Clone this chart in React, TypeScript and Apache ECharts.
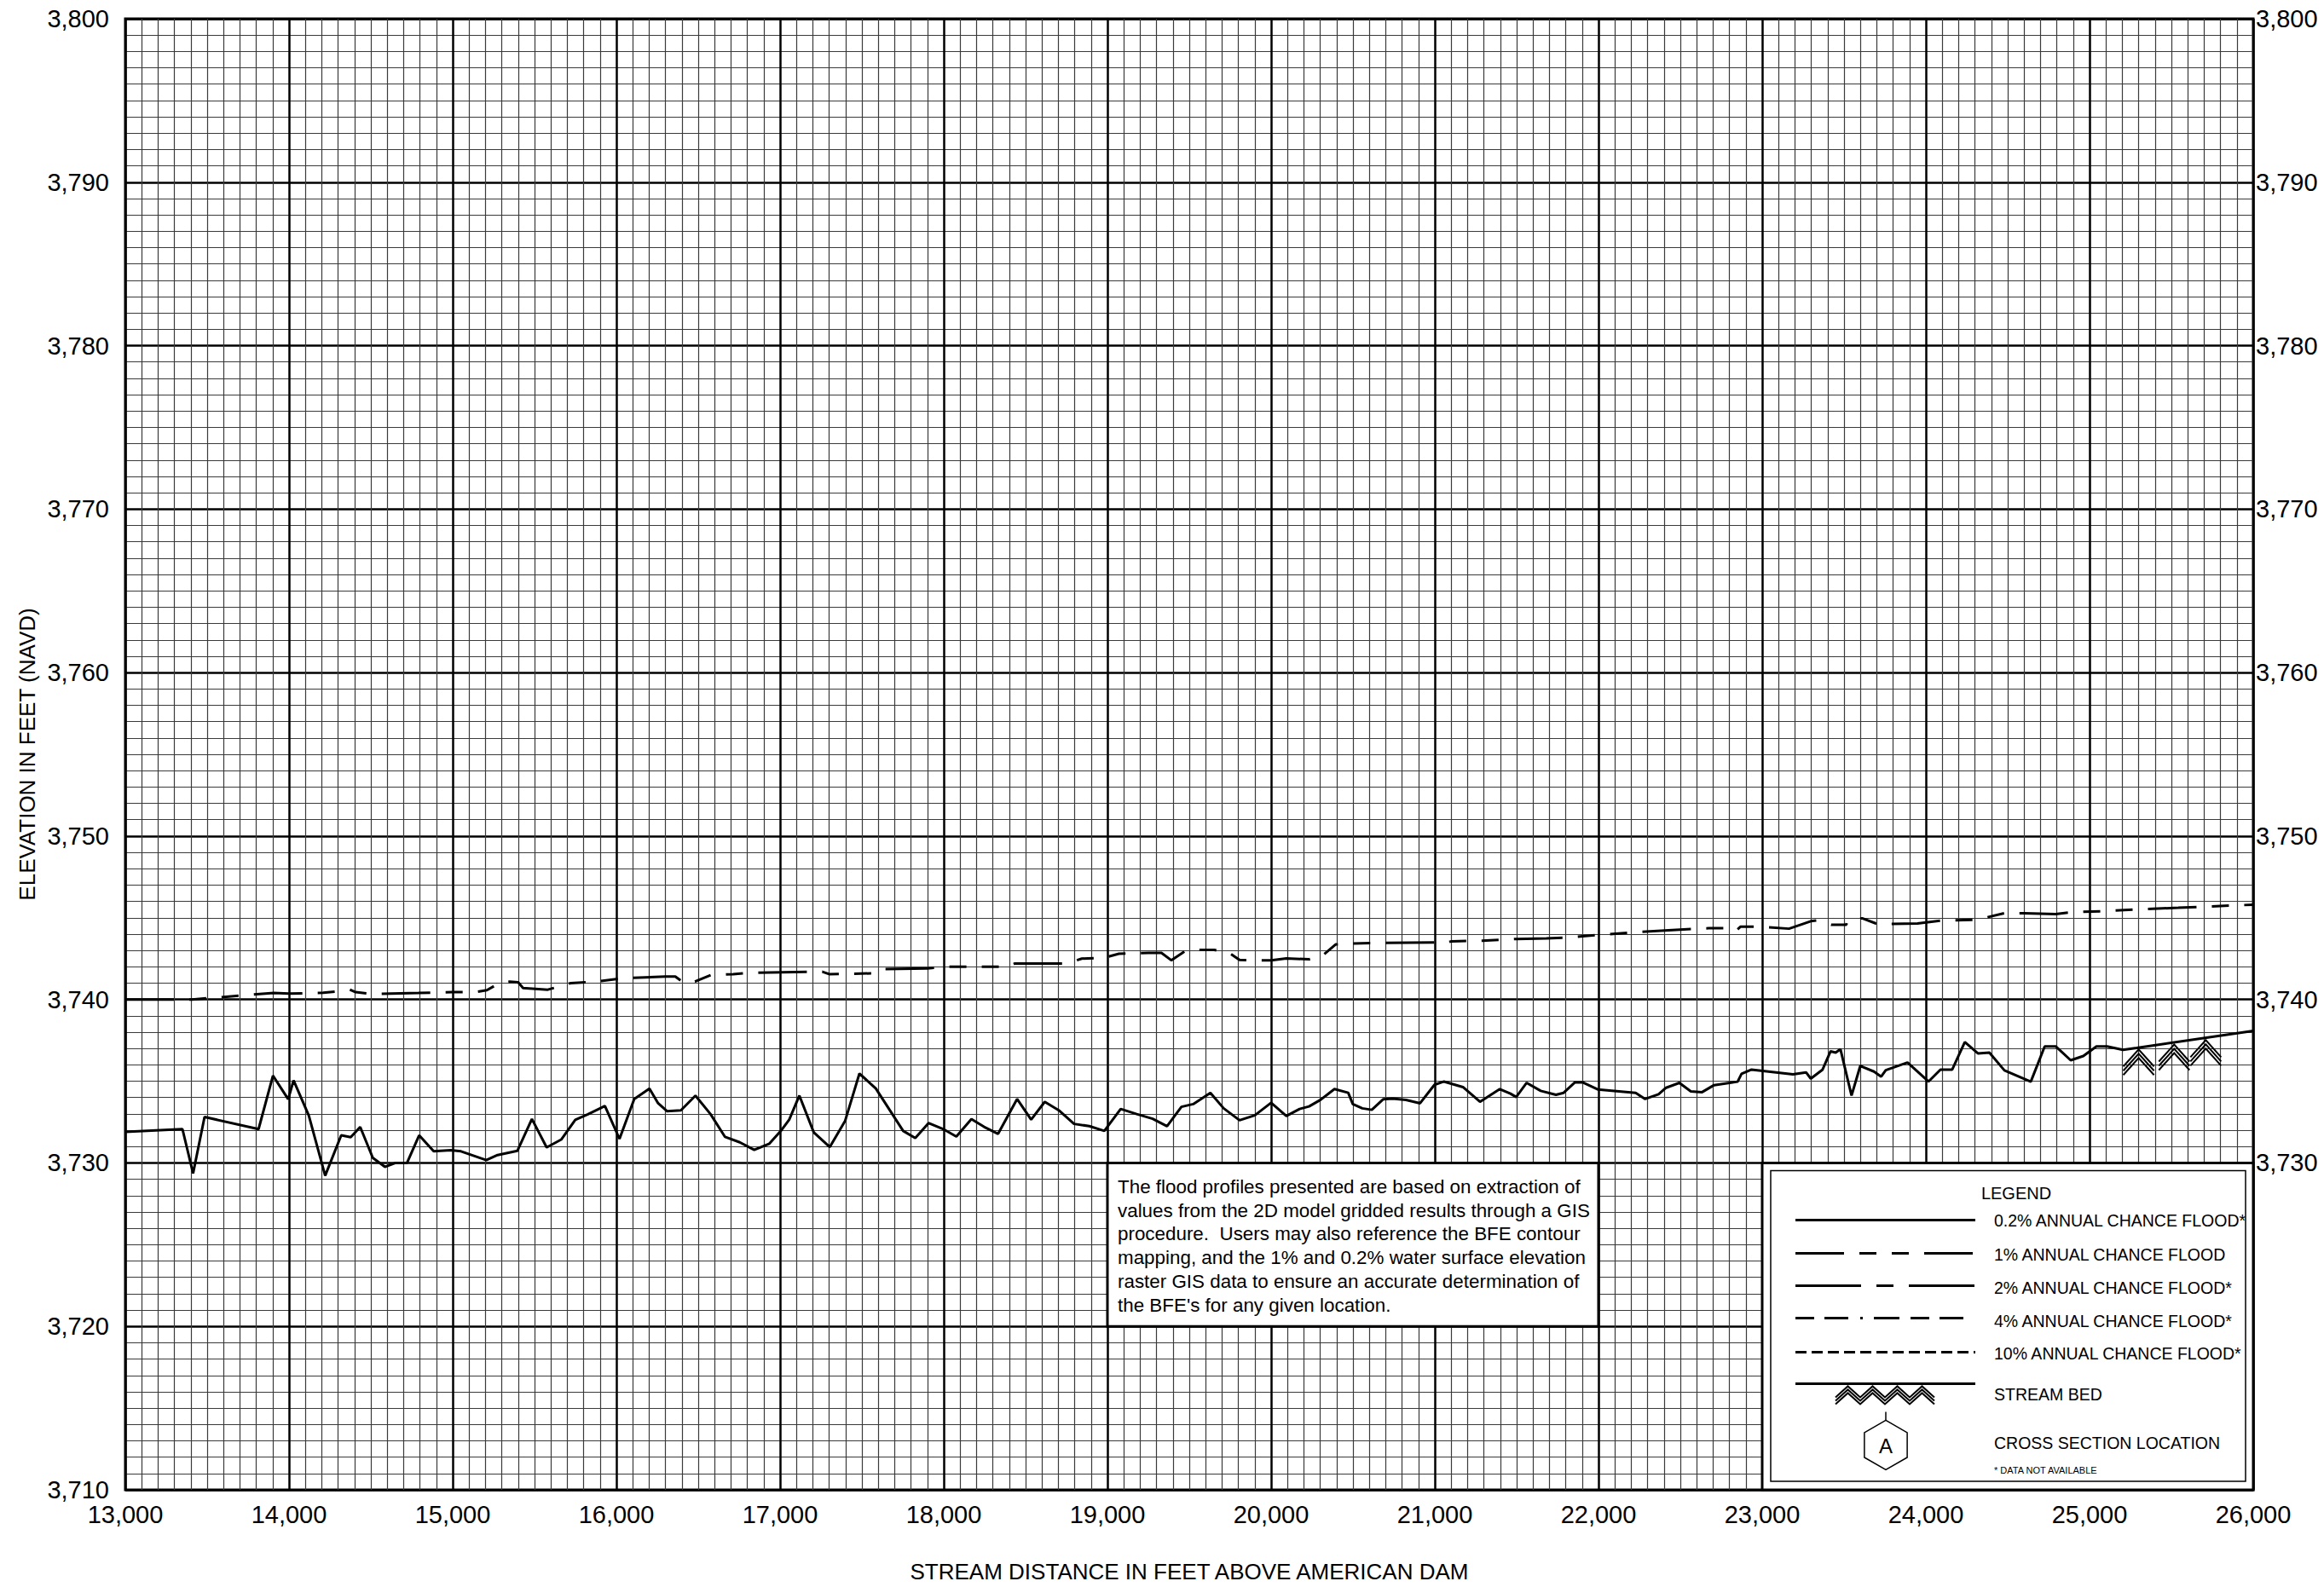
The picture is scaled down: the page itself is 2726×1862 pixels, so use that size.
import React, { useEffect, useRef } from "react";
import * as echarts from "echarts";

// ---------- DATA ----------
const X_MIN = 13000;
const X_MAX = 26000;
const X_STEP = 1000;
const Y_MIN = 3710;
const Y_MAX = 3800;
const Y_STEP = 10;
const RIGHT_LABEL_MIN = 3730; // right-hand labels below this are hidden behind the legend

const streamDist = [
  13000, 13349, 13414, 13484, 13814, 13902, 13995, 14028, 14121, 14221, 14319, 14377, 14435, 14512, 14586, 14651,
  14721, 14795, 14884, 14988, 15051, 15205, 15274, 15395, 15484, 15574, 15663, 15749, 15826, 15930, 16019, 16109,
  16202, 16255, 16309, 16394, 16483, 16575, 16664, 16754, 16842, 16935, 17005, 17056, 17118, 17206, 17304, 17397,
  17485, 17585, 17752, 17826, 17907, 17995, 18077, 18169, 18246, 18332, 18448, 18534, 18617, 18703, 18796, 18889,
  18981, 19081, 19179, 19276, 19364, 19452, 19524, 19629, 19710, 19807, 19900, 20000, 20093, 20174, 20232, 20302,
  20387, 20471, 20499, 20557, 20615, 20684, 20742, 20824, 20910, 20998, 21056, 21172, 21276, 21397, 21462, 21497,
  21561, 21647, 21740, 21787, 21856, 21903, 21995, 22227, 22285, 22367, 22413, 22494, 22564, 22633, 22706, 22850,
  22874, 22935, 23188, 23268, 23297, 23369, 23418, 23449, 23478, 23546, 23599, 23683, 23727, 23755, 23888, 24016,
  24089, 24161, 24238, 24318, 24388, 24480, 24641, 24726, 24793, 24885, 24962, 25042, 25107, 25204, 25288, 26000,
];
const streamElev = [
  3731.9, 3732.07, 3729.36, 3732.81, 3732.07, 3735.34, 3733.9, 3735.05, 3732.9, 3729.22, 3731.69, 3731.57, 3732.2, 3730.31, 3729.76, 3730.0,
  3730.0, 3731.69, 3730.71, 3730.78, 3730.71, 3730.17, 3730.48, 3730.74, 3732.69, 3730.95, 3731.43, 3732.64, 3732.98, 3733.48, 3731.47, 3733.91,
  3734.55, 3733.65, 3733.17, 3733.22, 3734.12, 3732.99, 3731.59, 3731.26, 3730.8, 3731.18, 3731.96, 3732.65, 3734.12, 3731.87, 3730.97, 3732.56,
  3735.47, 3734.55, 3731.96, 3731.52, 3732.44, 3732.08, 3731.61, 3732.68, 3732.21, 3731.78, 3733.91, 3732.65, 3733.74, 3733.22, 3732.39, 3732.25,
  3731.96, 3733.3, 3732.99, 3732.7, 3732.25, 3733.43, 3733.6, 3734.29, 3733.34, 3732.61, 3732.91, 3733.68, 3732.87, 3733.3, 3733.46, 3733.86,
  3734.52, 3734.29, 3733.6, 3733.34, 3733.25, 3733.89, 3733.94, 3733.86, 3733.65, 3734.78, 3734.98, 3734.64, 3733.74, 3734.52, 3734.24, 3734.03,
  3734.9, 3734.41, 3734.17, 3734.29, 3734.93, 3734.93, 3734.5, 3734.29, 3733.91, 3734.2, 3734.6, 3734.9, 3734.38, 3734.33, 3734.76, 3734.97,
  3735.45, 3735.71, 3735.42, 3735.54, 3735.16, 3735.71, 3736.83, 3736.75, 3736.96, 3734.12, 3735.93, 3735.59, 3735.28, 3735.67, 3736.14, 3734.98,
  3735.71, 3735.71, 3737.4, 3736.7, 3736.75, 3735.66, 3734.97, 3737.13, 3737.13, 3736.28, 3736.54, 3737.13, 3737.13, 3736.92, 3737.04, 3738.08,
];

const floodDist = [
  13000, 13407, 13907, 14000, 14209, 14326, 14372, 14407, 14500, 14791, 15000, 15140, 15209, 15279, 15349, 15400,
  15430, 15581, 15721, 15879, 16035, 16300, 16360, 16415, 16480, 16578, 16714, 16805, 17258, 17300, 17575, 17620,
  17900, 18028, 18390, 18435, 18752, 18843, 18979, 19070, 19250, 19330, 19390, 19480, 19524, 19652, 19745, 19807,
  20000, 20093, 20232, 20313, 20394, 20499, 20696, 21000, 21056, 21102, 21288, 21497, 21682, 21845, 22000, 22200,
  22450, 22674, 22778, 22838, 22867, 23000, 23164, 23297, 23333, 23422, 23514, 23519, 23611, 23695, 23780, 23949,
  24093, 24311, 24480, 24600, 24793, 24902, 25083, 25300, 25542, 26000,
];
const floodElev = [
  3740.0, 3740.0, 3740.4, 3740.36, 3740.41, 3740.52, 3740.6, 3740.45, 3740.34, 3740.4, 3740.45, 3740.45, 3740.57, 3740.97, 3741.09, 3741.05,
  3740.7, 3740.6, 3741.0, 3741.09, 3741.3, 3741.4, 3741.4, 3741.0, 3741.1, 3741.5, 3741.55, 3741.63, 3741.7, 3741.55, 3741.6, 3741.85,
  3741.9, 3742.0, 3742.0, 3742.2, 3742.2, 3742.5, 3742.55, 3742.8, 3742.85, 3742.85, 3742.4, 3743.0, 3743.03, 3743.03, 3742.85, 3742.42,
  3742.39, 3742.51, 3742.46, 3742.68, 3743.37, 3743.43, 3743.46, 3743.49, 3743.43, 3743.56, 3743.6, 3743.7, 3743.74, 3743.81, 3743.95, 3744.1,
  3744.25, 3744.36, 3744.36, 3744.19, 3744.45, 3744.45, 3744.33, 3744.79, 3744.83, 3744.57, 3744.57, 3744.79, 3744.97, 3744.65, 3744.62, 3744.65,
  3744.83, 3744.88, 3745.28, 3745.28, 3745.22, 3745.35, 3745.4, 3745.52, 3745.61, 3745.8,
];

// stream-bed hatch marks (peak positions on the bed line)
const hatchDist = [25300, 25517, 25710];
const hatchElev = [3737.05, 3737.35, 3737.62];

const xAxisTitle = "STREAM DISTANCE IN FEET ABOVE AMERICAN DAM";
const yAxisTitle = "ELEVATION IN FEET (NAVD)";

const noteLines = [
  "The flood profiles presented are based on extraction of",
  "values from the 2D model gridded results through a GIS",
  "procedure.  Users may also reference the BFE contour",
  "mapping, and the 1% and 0.2% water surface elevation",
  "raster GIS data to ensure an accurate determination of",
  "the BFE's for any given location.",
];
// note box corners in data units
const noteBoxX = [19000, 22000];
const noteBoxY = [3730, 3720];
const legendBoxX = [23000, 26000];
const legendBoxY = [3730, 3710];

const legendTitle = "LEGEND";
const legendLabels = [
  "0.2% ANNUAL CHANCE FLOOD*",
  "1% ANNUAL CHANCE FLOOD",
  "2% ANNUAL CHANCE FLOOD*",
  "4% ANNUAL CHANCE FLOOD*",
  "10% ANNUAL CHANCE FLOOD*",
  "STREAM BED",
  "CROSS SECTION LOCATION",
];
const legendFootnote = "* DATA NOT AVAILABLE";
const crossSectionLetter = "A";

// ---------- STYLE ----------
const FONT = "'Liberation Sans', Arial, Helvetica, sans-serif";
const DASH_1PCT = [57, 18, 20, 18, 20, 18];
const DASH_2PCT = [77, 18, 20, 18];
const DASH_4PCT = [22, 12, 28, 14, 3, 13, 30, 13];
const DASH_10PCT = [13, 6];

const fmt = (v: number) => String(Math.round(v)).replace(/\B(?=(\d{3})+(?!\d))/g, ",");

function zigzag(x0: number, y0: number, n: number, w: number, h: number, offs: number[]) {
  const els: any[] = [];
  offs.forEach((o) => {
    const pts: number[][] = [];
    for (let i = 0; i <= n * 2; i++) {
      pts.push([x0 + (i * w) / 2, y0 + o + (i % 2 === 0 ? h : 0)]);
    }
    els.push({
      type: "polyline",
      shape: { points: pts },
      style: { stroke: "#000", lineWidth: 2, fill: null },
      z: 101,
    });
  });
  return els;
}

export default function App() {
  const ref = useRef<HTMLDivElement>(null);

  useEffect(() => {
    if (!ref.current) return;
    const chart = echarts.init(ref.current, undefined, { renderer: "svg" });

    const streamData = streamDist.map((d, i) => [d, streamElev[i]]);
    const floodData = floodDist.map((d, i) => [d, floodElev[i]]);
    const hatchData = hatchDist.map((d, i) => [d, hatchElev[i]]);

    const yAxisBase = {
      type: "value",
      min: Y_MIN,
      max: Y_MAX,
      interval: Y_STEP,
      axisTick: { show: false },
      axisLine: { show: false },
    };

    chart.setOption({
      animation: false,
      backgroundColor: "#fff",
      textStyle: { fontFamily: FONT },
      grid: {
        left: 147,
        right: 83,
        top: 22,
        bottom: 112,
        show: true,
        borderColor: "#000",
        borderWidth: 3,
        backgroundColor: "transparent",
        containLabel: false,
      },
      xAxis: {
        type: "value",
        min: X_MIN,
        max: X_MAX,
        interval: X_STEP,
        axisTick: { show: false },
        axisLine: { show: false },
        axisLabel: {
          formatter: fmt,
          fontSize: 29,
          color: "#000",
          margin: 14,
          fontFamily: FONT,
          showMinLabel: true,
          showMaxLabel: true,
        },
        splitLine: { show: true, lineStyle: { color: "#000", width: 2.5 } },
        minorTick: { show: false, splitNumber: 10 },
        minorSplitLine: { show: true, lineStyle: { color: "#3a3a3a", width: 1.2 } },
        name: xAxisTitle,
        nameLocation: "middle",
        nameGap: 83,
        nameTextStyle: { fontSize: 26, color: "#000", fontFamily: FONT },
      },
      yAxis: [
        {
          ...yAxisBase,
          position: "left",
          axisLabel: { formatter: fmt, fontSize: 29, color: "#000", margin: 19, fontFamily: FONT, showMinLabel: true, showMaxLabel: true },
          splitLine: { show: true, lineStyle: { color: "#000", width: 2.5 } },
          minorTick: { show: false, splitNumber: 10 },
          minorSplitLine: { show: true, lineStyle: { color: "#3a3a3a", width: 1.2 } },
          name: yAxisTitle,
          nameLocation: "middle",
          nameGap: 99,
          nameTextStyle: { fontSize: 26, color: "#000", fontFamily: FONT },
        },
        {
          ...yAxisBase,
          position: "right",
          axisLabel: {
            formatter: (v: number) => (v < RIGHT_LABEL_MIN ? "" : fmt(v)),
            fontSize: 29,
            color: "#000",
            margin: 3,
            fontFamily: FONT,
            showMinLabel: true,
            showMaxLabel: true,
          },
          splitLine: { show: false },
        },
      ],
      series: [
        {
          name: "1% ANNUAL CHANCE FLOOD",
          type: "line",
          data: floodData,
          showSymbol: false,
          symbol: "none",
          lineStyle: { color: "#000", width: 3, type: DASH_1PCT },
          z: 5,
        },
        {
          name: "STREAM BED",
          type: "line",
          data: streamData,
          showSymbol: false,
          symbol: "none",
          lineStyle: { color: "#000", width: 3, type: "solid" },
          z: 5,
        },
        {
          name: "hatch",
          type: "custom",
          data: hatchData,
          z: 6,
          renderItem: (params: any, api: any) => {
            const p = api.coord([api.value(0), api.value(1)]);
            const children: any[] = [];
            for (let k = 0; k < 3; k++) {
              const o = 2 + k * 5;
              children.push({
                type: "polyline",
                shape: {
                  points: [
                    [p[0] - 18, p[1] + 20 + o],
                    [p[0], p[1] + o],
                    [p[0] + 18, p[1] + 20 + o],
                  ],
                },
                style: { stroke: "#000", lineWidth: 2, fill: null },
              });
            }
            return { type: "group", children };
          },
        },
      ],
    });

    // ----- annotation boxes placed from data coordinates -----
    const px = (d: number, v: number) => chart.convertToPixel({ xAxisIndex: 0, yAxisIndex: 0 }, [d, v]) as number[];
    const n0 = px(noteBoxX[0], noteBoxY[0]);
    const n1 = px(noteBoxX[1], noteBoxY[1]);
    const l0 = px(legendBoxX[0], legendBoxY[0]);
    const l1 = px(legendBoxX[1], legendBoxY[1]);
    const lw = l1[0] - l0[0];
    const lh = l1[1] - l0[1];
    const ox = l0[0];
    const oy = l0[1];

    const legendLineYs = [67, 106, 144, 182, 222, 259];
    const legendLabelYs = [68, 108, 147, 186, 224, 272, 329];
    const legendDashes: any[] = [null, DASH_1PCT, DASH_2PCT, DASH_4PCT, DASH_10PCT, null];

    const graphics: any[] = [
      {
        type: "rect",
        shape: { x: n0[0], y: n0[1], width: n1[0] - n0[0], height: n1[1] - n0[1] },
        style: { fill: "#fff", stroke: "#000", lineWidth: 3 },
        z: 100,
      },
      {
        type: "text",
        x: n0[0] + 12,
        y: n0[1] + 14,
        style: {
          text: noteLines.join("\n"),
          font: `22.4px ${FONT}`,
          fill: "#000",
          lineHeight: 27.8,
          textAlign: "left",
          textVerticalAlign: "top",
        },
        z: 101,
      },
      {
        type: "rect",
        shape: { x: ox, y: oy, width: lw, height: lh },
        style: { fill: "#fff", stroke: "#000", lineWidth: 3 },
        z: 100,
      },
      {
        type: "rect",
        shape: { x: ox + 10, y: oy + 9, width: lw - 19, height: lh - 19 },
        style: { fill: "none", stroke: "#000", lineWidth: 1.5 },
        z: 101,
      },
      {
        type: "text",
        x: ox + 298,
        y: oy + 36,
        style: { text: legendTitle, font: `20px ${FONT}`, fill: "#000", textAlign: "center", textVerticalAlign: "middle" },
        z: 101,
      },
    ];

    legendLineYs.forEach((yy, i) => {
      const style: any = { stroke: "#000", lineWidth: 3 };
      if (legendDashes[i]) style.lineDash = legendDashes[i];
      graphics.push({
        type: "line",
        shape: { x1: ox + 39, y1: oy + yy, x2: ox + 250, y2: oy + yy },
        style,
        z: 101,
      });
    });

    legendLabels.forEach((t, i) => {
      graphics.push({
        type: "text",
        x: ox + 272,
        y: oy + legendLabelYs[i],
        style: { text: t, font: `19.5px ${FONT}`, fill: "#000", textAlign: "left", textVerticalAlign: "middle" },
        z: 101,
      });
    });

    graphics.push({
      type: "text",
      x: ox + 272,
      y: oy + 361,
      style: { text: legendFootnote, font: `11px ${FONT}`, fill: "#000", textAlign: "left", textVerticalAlign: "middle" },
      z: 101,
    });

    // stream bed hatch in legend
    graphics.push(...zigzag(ox + 86, oy + 262, 4, 29, 13, [0, 4, 8]));

    // cross-section hexagon
    const hx = ox + 145;
    const hy = oy + 331;
    const r = 29;
    const hexPts: number[][] = [];
    for (let k = 0; k < 6; k++) {
      const a = (Math.PI / 180) * (90 + k * 60);
      hexPts.push([hx + r * Math.cos(a), hy - r * Math.sin(a)]);
    }
    graphics.push({
      type: "polygon",
      shape: { points: hexPts },
      style: { fill: "#fff", stroke: "#000", lineWidth: 1.5 },
      z: 101,
    });
    graphics.push({
      type: "line",
      shape: { x1: hx, y1: hy - r - 10, x2: hx, y2: hy - r },
      style: { stroke: "#000", lineWidth: 1.5 },
      z: 101,
    });
    graphics.push({
      type: "text",
      x: hx,
      y: hy + 1,
      style: { text: crossSectionLetter, font: `24px ${FONT}`, fill: "#000", textAlign: "center", textVerticalAlign: "middle" },
      z: 102,
    });

    chart.setOption({ graphic: { elements: graphics } });

    return () => chart.dispose();
  }, []);

  return (
    <div
      ref={ref}
      style={{ position: "absolute", left: 0, top: 0, width: 2726, height: 1862, background: "#fff" }}
    />
  );
}
